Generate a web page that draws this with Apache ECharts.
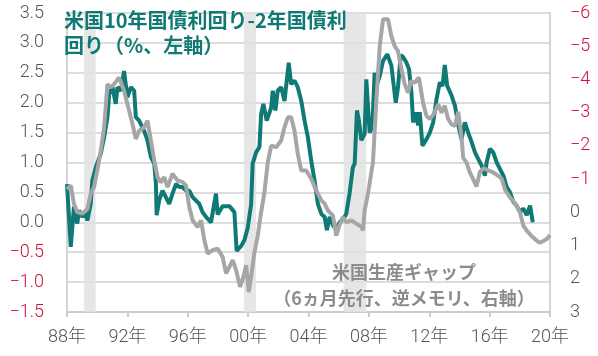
<!DOCTYPE html>
<html><head><meta charset="utf-8">
<script src="https://cdn.jsdelivr.net/npm/echarts@6/dist/echarts.min.js"></script>
<style>html,body{margin:0;padding:0;background:#fff}#c{width:598px;height:356px}</style>
</head><body><div id="c"></div>
<script>
const spreadYears = [1988.00,1988.25,1988.46,1988.68,1988.80,1989.02,1989.24,1989.35,1989.57,1989.68,1989.91,1990.24,1990.46,1990.68,1990.79,1991.01,1991.23,1991.34,1991.57,1991.78,1992.00,1992.23,1992.45,1992.56,1992.78,1993.11,1993.33,1993.56,1993.78,1993.89,1993.94,1994.11,1994.33,1994.55,1994.77,1994.99,1995.22,1995.44,1995.66,1995.88,1996.10,1996.32,1996.76,1996.98,1997.21,1997.54,1997.87,1997.98,1998.31,1998.76,1999.09,1999.24,1999.53,1999.75,1999.97,2000.20,2000.30,2000.53,2000.75,2000.86,2001.01,2001.23,2001.53,2001.63,2001.81,2001.96,2002.19,2002.41,2002.56,2002.69,2002.85,2003.07,2003.29,2003.52,2003.74,2003.96,2004.18,2004.40,2004.62,2004.85,2005.07,2005.22,2005.40,2005.62,2005.84,2006.06,2006.28,2006.50,2006.72,2006.94,2007.06,2007.21,2007.34,2007.50,2007.72,2007.83,2008.05,2008.23,2008.38,2008.54,2008.72,2008.94,2009.22,2009.49,2009.78,2009.93,2010.11,2010.28,2010.49,2010.66,2010.82,2010.93,2011.11,2011.26,2011.37,2011.55,2011.82,2012.04,2012.26,2012.48,2012.70,2012.88,2013.03,2013.19,2013.48,2013.70,2013.98,2014.14,2014.36,2014.58,2014.81,2015.03,2015.24,2015.47,2015.69,2015.80,2016.02,2016.24,2016.47,2016.69,2016.91,2017.13,2017.35,2017.57,2017.79,2018.01,2018.23,2018.46,2018.68,2018.86];
const spreadValues = [0.64,-0.41,0.26,-0.02,0.20,0.09,0.15,0.03,0.31,0.70,0.92,1.15,1.42,1.76,2.14,2.26,1.98,2.26,2.20,2.53,2.09,2.26,2.20,1.76,1.70,1.53,1.37,1.09,0.98,0.65,0.12,0.37,0.53,0.42,0.31,0.48,0.64,0.59,0.59,0.53,0.53,0.42,0.31,0.17,0.09,0.00,0.48,0.13,0.27,0.27,0.17,-0.48,-0.40,-0.30,-0.10,0.30,0.98,1.17,1.26,1.81,1.98,1.70,1.92,2.20,1.87,2.20,2.26,2.03,2.37,2.67,2.31,2.37,2.26,2.03,1.70,1.42,1.03,0.70,0.31,0.14,0.09,-0.13,0.09,-0.05,-0.12,0.00,0.05,0.14,0.48,0.92,0.98,1.87,1.70,1.37,1.48,2.39,1.50,1.59,2.50,2.31,2.45,2.70,2.81,2.62,2.00,2.26,2.80,2.76,2.67,2.56,2.17,1.67,1.84,1.62,1.84,1.28,1.39,1.50,1.67,2.06,2.34,2.28,2.63,2.28,2.12,1.95,1.56,1.39,1.67,1.50,1.34,1.17,1.06,0.95,0.78,1.00,1.23,1.17,1.00,0.89,0.78,0.59,0.50,0.34,0.28,0.17,0.23,0.12,0.28,0.00];

const gapYears = [1988.00,1988.25,1988.46,1988.68,1989.02,1989.35,1989.57,1989.79,1990.01,1990.24,1990.46,1990.68,1990.90,1991.12,1991.45,1991.78,1992.12,1992.34,1992.56,1992.78,1993.11,1993.33,1993.56,1993.78,1994.00,1994.22,1994.44,1994.66,1994.99,1995.32,1995.66,1995.88,1996.10,1996.32,1996.65,1996.88,1997.10,1997.32,1997.65,1997.98,1998.31,1998.54,1998.76,1998.98,1999.20,1999.47,1999.69,1999.87,2000.04,2000.20,2000.42,2000.64,2000.86,2001.08,2001.30,2001.53,2001.86,2002.19,2002.41,2002.63,2002.85,2003.07,2003.29,2003.52,2003.85,2004.18,2004.51,2004.85,2005.07,2005.28,2005.62,2005.84,2006.06,2006.28,2006.51,2006.84,2007.17,2007.50,2007.61,2007.72,2007.94,2008.05,2008.27,2008.50,2008.72,2008.94,2009.05,2009.27,2009.49,2009.71,2009.93,2010.16,2010.38,2010.60,2010.78,2011.04,2011.31,2011.59,2011.82,2012.04,2012.26,2012.59,2012.81,2013.03,2013.25,2013.48,2013.70,2013.92,2014.14,2014.25,2014.47,2014.69,2014.91,2015.13,2015.36,2015.62,2015.91,2016.24,2016.57,2016.80,2017.02,2017.35,2017.68,2018.01,2018.23,2018.46,2018.79,2019.12,2019.34,2019.79,2020.00];
const gapValues = [-0.70,-0.81,-0.26,-0.01,0.04,-0.10,-0.56,-0.76,-1.26,-1.86,-2.56,-3.86,-3.76,-3.86,-4.06,-3.66,-3.06,-2.66,-2.21,-2.46,-2.56,-2.76,-2.16,-1.56,-1.06,-0.90,-1.06,-0.76,-1.16,-0.96,-0.91,-0.81,-0.16,0.24,0.44,0.24,0.84,1.24,1.14,1.09,1.34,1.84,1.64,1.44,1.74,2.24,1.94,1.59,2.40,1.94,1.20,0.70,0.00,-0.60,-1.50,-2.01,-1.96,-2.16,-2.56,-2.86,-2.86,-2.46,-1.76,-1.26,-1.26,-1.01,-0.66,-0.36,-0.26,-0.06,0.10,0.70,0.38,0.14,0.30,0.24,0.34,0.44,0.54,-0.06,-0.56,-0.61,-1.51,-3.41,-5.01,-5.81,-5.86,-5.81,-5.30,-5.00,-4.85,-4.30,-3.85,-3.60,-3.95,-3.90,-4.06,-3.30,-2.90,-2.81,-2.93,-3.25,-3.00,-3.21,-2.81,-2.65,-2.60,-3.03,-2.24,-1.64,-1.50,-1.20,-1.00,-0.78,-1.22,-1.33,-1.26,-1.20,-1.10,-1.01,-0.68,-0.45,-0.28,0.00,0.40,0.55,0.72,0.85,0.92,0.80,0.68];

const recessionStart = [1989.13, 1999.72, 2006.33];
const recessionEnd = [1989.90, 2000.53, 2007.83];

const xTicks = [1988, 1992, 1996, 2000, 2004, 2008, 2012, 2016, 2020];
const leftTicks = [-1.5, -1.0, -0.5, 0.0, 0.5, 1.0, 1.5, 2.0, 2.5, 3.0, 3.5];
const rightTicks = [-6, -5, -4, -3, -2, -1, 0, 1, 2, 3];

const titleSpread = ['米国10年国債利回り-2年国債利', '回り（%、左軸）'];
const titleGap = ['米国生産ギャップ', '（6ヵ月先行、逆メモリ、右軸）'];

const TEAL = '#0f7a75', GRAY = '#a6a6a6', RED = '#d0103a', LBL = '#555555';
const FONT = '"Noto Sans CJK JP", "Noto Sans", sans-serif';
const LFONT = 'Roboto, "Noto Sans CJK JP", sans-serif';

const spreadData = spreadYears.map((y, i) => [y, spreadValues[i]]);
const gapData = gapYears.map((y, i) => [y, gapValues[i]]);
const areas = recessionStart.map((s, i) => [{xAxis: s}, {xAxis: recessionEnd[i]}]);

const lbl = {fontSize: 18, fontFamily: LFONT, fontWeight: 300};

const chart = echarts.init(document.getElementById('c'), null, {renderer: 'canvas'});
chart.setOption({
  animation: false,
  grid: {left: 67, right: 48, top: 13, bottom: 44},
  xAxis: {
    type: 'value', min: xTicks[0], max: xTicks[xTicks.length - 1], interval: 4,
    axisLine: {show: true, onZero: false, lineStyle: {color: '#cccccc', width: 2}},
    axisTick: {show: true, length: 5, lineStyle: {color: '#cccccc', width: 2}},
    splitLine: {show: false},
    axisLabel: Object.assign({
      margin: 17, color: LBL,
      formatter: v => String(Math.round(v) % 100).padStart(2, '0') + '年'
    }, lbl)
  },
  yAxis: [
    {
      type: 'value', min: leftTicks[0], max: leftTicks[leftTicks.length - 1], interval: 0.5,
      position: 'left',
      axisLine: {show: true, lineStyle: {color: '#d4d4d4', width: 2}},
      axisTick: {show: false},
      splitLine: {show: true, lineStyle: {color: '#dcdcdc', width: 2}},
      axisLabel: Object.assign({
        margin: 23,
        formatter: v => v < 0 ? '{r|−' + Math.abs(v).toFixed(1) + '}' : '{g|' + v.toFixed(1) + '}',
        rich: {r: Object.assign({color: RED}, lbl), g: Object.assign({color: LBL}, lbl)}
      }, lbl)
    },
    {
      type: 'value', min: rightTicks[0], max: rightTicks[rightTicks.length - 1], interval: 1,
      inverse: true, position: 'right',
      axisLine: {show: true, lineStyle: {color: '#d4d4d4', width: 2}},
      axisTick: {show: false},
      splitLine: {show: false},
      axisLabel: Object.assign({
        margin: 20,
        formatter: v => v < 0 ? '{r|−' + Math.abs(v) + '}' : '{g|' + v + '}',
        rich: {r: Object.assign({color: RED}, lbl), g: Object.assign({color: LBL}, lbl)}
      }, lbl)
    }
  ],
  series: [
    {
      type: 'line', yAxisIndex: 0, data: spreadData, showSymbol: false, symbol: 'none',
      lineStyle: {color: TEAL, width: 4}, z: 3,
      markArea: {silent: true, itemStyle: {color: 'rgba(226,226,226,0.85)'}, data: areas, z: 1}
    },
    {
      type: 'line', yAxisIndex: 1, data: gapData, showSymbol: false, symbol: 'none',
      lineStyle: {color: GRAY, width: 4}, z: 4
    }
  ],
  graphic: [
    {type: 'text', left: 64, top: 8, z: 10,
     style: {text: titleSpread.join('\n'), fill: TEAL, font: 'bold 20px ' + FONT, lineHeight: 25}},
    {type: 'text', x: 404, y: 259, z: 10,
     style: {text: titleGap.join('\n'), fill: '#8c8c8c', font: 'bold 18px ' + FONT, lineHeight: 26, textAlign: 'center'}}
  ]
});
</script></body></html>
